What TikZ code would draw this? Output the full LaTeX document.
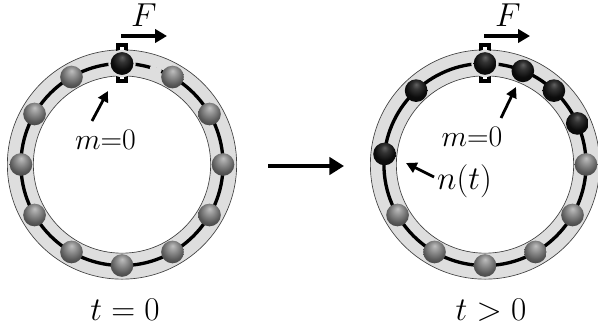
\documentclass[tikz,border=0pt]{standalone}
\usepackage{amsmath}
\usetikzlibrary{arrows.meta}
\definecolor{band}{gray}{0.87}
\pgfdeclareradialshading{greyball}{\pgfpoint{0bp}{14bp}}{%
 color(0bp)=(black!25); color(10bp)=(black!42); color(24bp)=(black!65); color(40bp)=(black!82); color(50bp)=(black!90)}
\pgfdeclareradialshading{blackball}{\pgfpoint{0bp}{14bp}}{%
 color(0bp)=(black!62); color(9bp)=(black!80); color(22bp)=(black!95); color(50bp)=(black)}
\tikzset{
 ringedge/.style={draw=black!75,line width=0.5pt},
 track/.style={draw=black,line width=2.5pt},
 bead/.style={circle,minimum size=17pt,inner sep=0pt,draw=none},
 greybead/.style={bead,shading=greyball},
 blackbead/.style={bead,shading=blackball},
 halo/.style={circle,fill=band,minimum size=20.5pt,inner sep=0pt,draw=none},
 force/.style={draw=black,line width=2.6pt,-{Triangle[length=9pt,width=10pt]}},
 pointer/.style={draw=black,line width=2.1pt,-{Triangle[length=8pt,width=8pt]}},
 bigarrow/.style={draw=black,line width=3.6pt,-{Triangle[length=11pt,width=13pt]}},
 clamp/.style={draw=black,line width=2.3pt,fill=white},
 biglab/.style={inner sep=0pt,font=\fontsize{24}{28}\selectfont},
 lab/.style={biglab,transform shape,scale=0.9}
}
\newcommand{\ringbase}[2]{%
 \fill[band,even odd rule] (#1,#2) circle (86pt) (#1,#2) circle (66.5pt);
 \draw[ringedge] (#1,#2) circle (86pt);
 \draw[ringedge] (#1,#2) circle (66.5pt);
 \draw[track] (#1,#2) circle (75.8pt);
}
\begin{document}
\begin{tikzpicture}[x=0.75pt,y=-0.75pt]
\useasboundingbox (0,0) rectangle (598,332);
% left ring
\ringbase{122}{164.5}
\path[clamp] (118,45) rectangle (126,57);
\path[clamp] (118,75) rectangle (126,81);
\coordinate (L) at (122,164.5);
\node[halo] (lh0) at ([shift={(0,-101)}]L) {};
\fill[band] ([shift={(-72:101)}]L) circle (2.6pt) ([shift={(-69:101)}]L) circle (2.6pt);
\foreach \a [count=\i] in {0,30,60,90,120,150,180,210,240,270,300,330}{
  \node[greybead] (lb\i) at ([shift={(-\a:101)}]L) {};
}
\node[blackbead] (lb0) at ([shift={(0,-101)}]L) {};
\node[biglab] (lF) at (144,15) {$F$};
\coordinate (lF1) at (121,36);
\coordinate (lF2) at (167,36);
\draw[force] (lF1) -- (lF2);
\node[lab] (lm) at (105.5,140) {$m{=}0$};
\coordinate (lp1) at (92,121);
\coordinate (lp2) at (108,91);
\draw[pointer] (lp1) -- (lp2);
\node[biglab] (lt) at (125,310) {$t=0$};
% centre arrow
\coordinate (c1) at (268,166);
\coordinate (c2) at (344,166);
\draw[bigarrow] (c1) -- (c2);
% right ring
\ringbase{485}{164.5}
\path[clamp] (481,45) rectangle (489,57);
\path[clamp] (481,75) rectangle (489,81);
\coordinate (R) at (485,164.5);
\node[halo] (rh0) at ([shift={(0,-101)}]R) {};
\foreach \a [count=\i] in {0,30,60,90,120,150}{
  \node[greybead] (rg\i) at ([shift={(\a:101)}]R) {};
}
\foreach \a [count=\i] in {-90,-68,-47,-24,-133,-174}{
  \node[blackbead] (rb\i) at ([shift={(\a:101)}]R) {};
}
\node[biglab] (rF) at (508,15) {$F$};
\coordinate (rF1) at (484,36);
\coordinate (rF2) at (530,36);
\draw[force] (rF1) -- (rF2);
\node[lab] (rm) at (472,137) {$m{=}0$};
\coordinate (rp1) at (501,118);
\coordinate (rp2) at (516,87);
\draw[pointer] (rp1) -- (rp2);
\node[biglab] (rn) at (464.5,181) {$n(t)$};
\coordinate (rn1) at (434,177);
\coordinate (rn2) at (406,163);
\draw[pointer] (rn1) -- (rn2);
\node[biglab] (rt) at (491,310) {$t>0$};
\end{tikzpicture}
\end{document}
